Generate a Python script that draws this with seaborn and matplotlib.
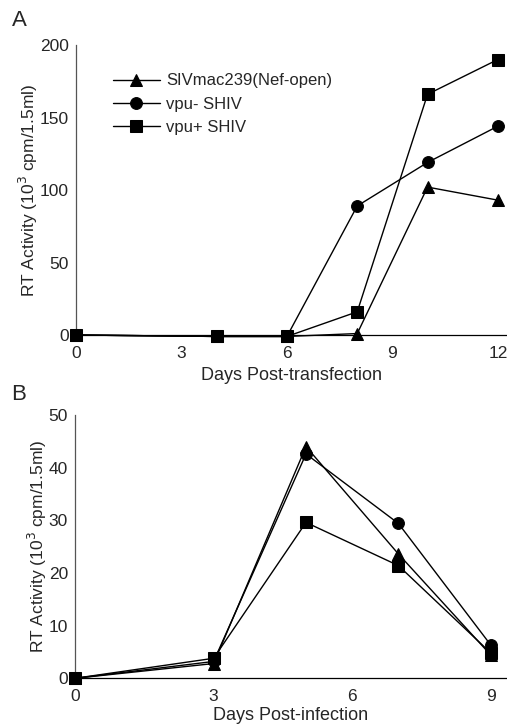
import matplotlib
matplotlib.use("Agg")
import matplotlib.pyplot as plt
import seaborn as sns
import pandas as pd

sns.set_style("white")
plt.rcParams['font.family'] = ['Liberation Sans', 'DejaVu Sans']

series_names = ["SIVmac239(Nef-open)", "vpu- SHIV", "vpu+ SHIV"]
markers = {"SIVmac239(Nef-open)": "^", "vpu- SHIV": "o", "vpu+ SHIV": "s"}

# Panel A
days_a = [0, 4, 6, 8, 10, 12]
siv_a = [0, -1, -1, 1, 102, 93]
vpum_a = [0, -1, -1, 89, 119, 144]
vpup_a = [0, -1, -1, 16, 166, 190]

# Panel B
days_b = [0, 3, 5, 7, 9]
siv_b = [0, 2.8, 44, 23.6, 4.4]
vpum_b = [0, 3.2, 42.6, 29.4, 6.3]
vpup_b = [0, 3.8, 29.6, 21.4, 4.8]

xticks_a = [0, 3, 6, 9, 12]
yticks_a = [0, 50, 100, 150, 200]
xticks_b = [0, 3, 6, 9]
yticks_b = [0, 10, 20, 30, 40, 50]

def make_df(days, vals):
    rows = []
    for name, v in zip(series_names, vals):
        for d, y in zip(days, v):
            rows.append({"day": d, "val": y, "series": name})
    return pd.DataFrame(rows)

df_a = make_df(days_a, [siv_a, vpum_a, vpup_a])
df_b = make_df(days_b, [siv_b, vpum_b, vpup_b])

fig = plt.figure(figsize=(5.07, 7.26), dpi=100)
ax_a = fig.add_axes([76/507, 1-335/726, 431/507, 290/726])
ax_b = fig.add_axes([75/507, 1-678.3/726, 432/507, 263.3/726])

def draw(ax, df, xlim, ylim, xticks, yticks, xlabel, legend, xlabelpad):
    sns.lineplot(data=df, x="day", y="val", hue="series", style="series",
                 hue_order=series_names, style_order=series_names,
                 palette=["black"]*3, markers=markers, dashes=False,
                 markersize=8.5, linewidth=1.0, markeredgecolor="black",
                 ax=ax, legend=legend, clip_on=False, zorder=3)
    ax.set_xlim(*xlim)
    ax.set_ylim(*ylim)
    ax.set_xticks(xticks)
    ax.set_yticks(yticks)
    ax.tick_params(axis="both", direction="in", length=4, width=0.8,
                   labelsize=12.5, color="black", pad=5)
    ax.tick_params(axis="x", pad=8)
    for s in ["top", "right"]:
        ax.spines[s].set_visible(False)
    ax.spines["left"].set_color("#555555")
    ax.spines["left"].set_linewidth(0.9)
    ax.spines["bottom"].set_color("black")
    ax.spines["bottom"].set_linewidth(0.9)
    ax.set_xlabel(xlabel, fontsize=13, labelpad=xlabelpad)
    ax.set_ylabel("RT Activity (10$^3$ cpm/1.5ml)", fontsize=12.5, labelpad=0)

draw(ax_a, df_a, (0, 12.26), (0, 200), xticks_a, yticks_a, "Days Post-transfection", True, 4)
draw(ax_b, df_b, (0, 9.35), (0, 50), xticks_b, yticks_b, "Days Post-infection", False, 2)

leg = ax_a.legend(loc="upper left", bbox_to_anchor=(0.07, 0.925), frameon=False,
                  fontsize=12, handlelength=2.8, handletextpad=0.4,
                  labelspacing=0.5, borderaxespad=0)

fig.text(19/507, 1-21/726, "A", fontsize=16, ha="center", va="center")
fig.text(19/507, 1-394/726, "B", fontsize=16, ha="center", va="center")

fig.savefig("out.png", dpi=100)
